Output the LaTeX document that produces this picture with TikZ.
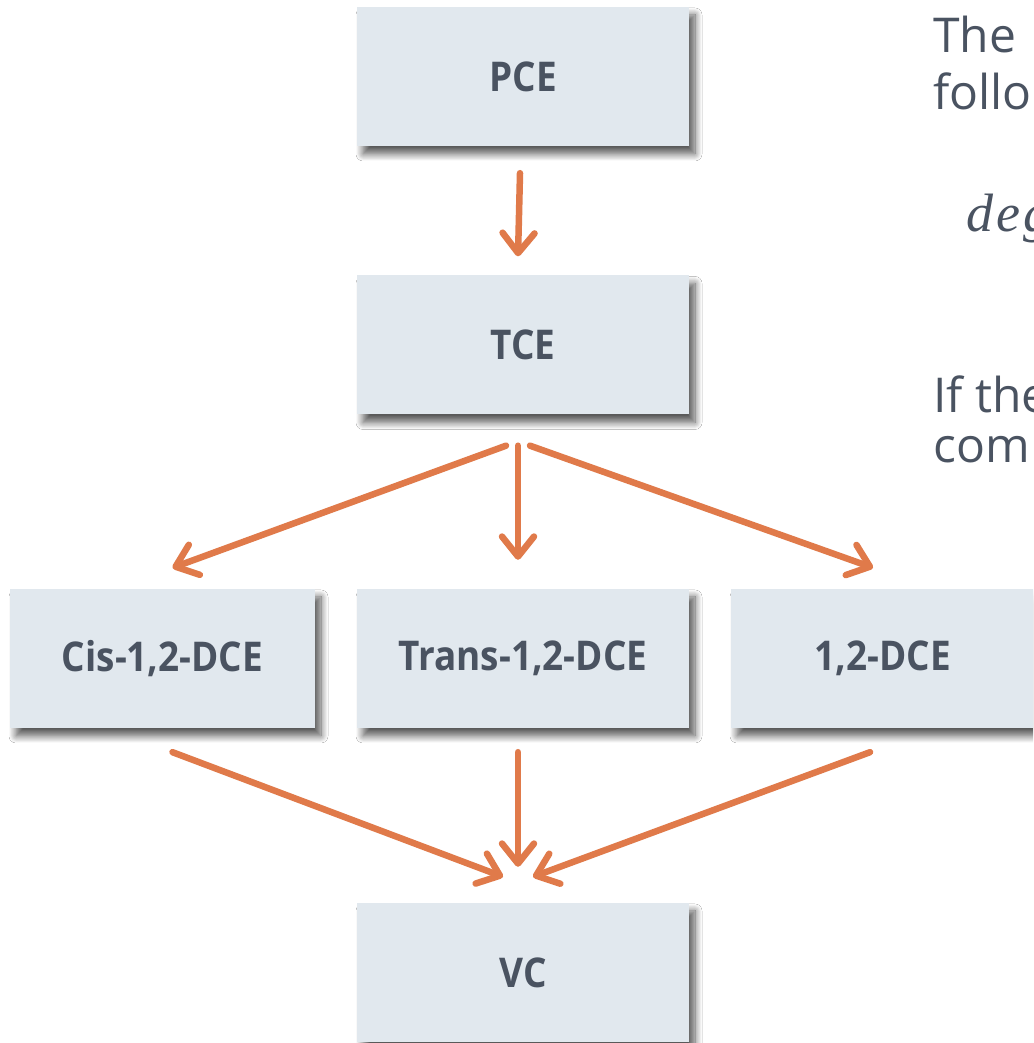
\documentclass[tikz,border=0pt]{standalone}
\usepackage{fontspec}
\usetikzlibrary{arrows.meta,calc,shadows.blur}
\newfontfamily\lblfont{Open Sans}[FakeStretch=0.9]
\newfontfamily\rfont{Open Sans}
\newfontfamily\mathitfont{Liberation Serif}[LetterSpace=6]
\definecolor{boxfill}{HTML}{E1E8EE}
\definecolor{txtgray}{HTML}{4A5361}
\definecolor{arrowor}{HTML}{E07A4A}
\tikzset{
  stepbox/.style={draw=none, fill=boxfill, minimum height=139pt, inner sep=0pt,
    blur shadow={shadow xshift=6pt, shadow yshift=-8pt, shadow blur steps=10, shadow blur radius=7pt, shadow opacity=65},
    font=\lblfont\bfseries\fontsize{41}{48}\selectfont, text=txtgray},
  flow/.style={draw=arrowor, line width=6.5pt, line cap=round, line join=round,
    -{Straight Barb[length=20pt,width=32pt,line cap=round,line join=round]}},
  sidetext/.style={anchor=base west, inner sep=0pt, text=txtgray, font=\rfont\fontsize{48}{56}\selectfont}
}
\begin{document}
\begin{tikzpicture}[x=1pt,y=1pt]
\useasboundingbox (0,0) rectangle (1033,1043);
\clip (0,0) rectangle (1033,1043);
\fill[white] (0,0) rectangle (1033,1043);
% boxes
\node[stepbox, minimum width=332pt] (pce) at (523,966.5) {PCE};
\node[stepbox, minimum width=332pt] (tce) at (523,698) {TCE};
\node[stepbox, minimum width=305pt] (cis) at (162.5,384.5) {Cis-1,2-DCE};
\node[stepbox, minimum width=332pt] (trans) at (523,384.5) {Trans-1,2-DCE};
\node[stepbox, minimum width=304pt] (dce) at (883,384.5) {1,2-DCE};
\node[stepbox, minimum width=332pt] (vc) at (523,70.5) {VC};
% fan points
\coordinate (pceout) at ($(pce.south)+(-3,-27)$);
\coordinate (tceout) at ($(tce.south)+(-5,-31)$);
\coordinate (cisin) at ($(cis.north)+(10,21)$);
\coordinate (transin) at ($(trans.north)+(-5,29)$);
\coordinate (dcein) at ($(dce.north)+(-10,21)$);
\coordinate (vcin) at ($(vc.north)+(-5,36)$);
\draw[flow] (pceout) -- ($(tce.north)+(-5,19)$);
\draw[flow] ($(tceout)+(-12,0)$) -- (cisin);
\draw[flow] (tceout) -- (transin);
\draw[flow] ($(tceout)+(12,0)$) -- (dcein);
\draw[flow] ($(cis.south)+(10,-24)$) -- ($(vcin)+(-15,-10)$);
\draw[flow] ($(trans.south)+(-5,-24)$) -- ($(vcin)+(0,0)$);
\draw[flow] ($(dce.south)+(-13,-24)$) -- ($(vcin)+(15,-10)$);
% side text
\node[sidetext] (t1) at (933,990) {The};
\node[sidetext] (t2) at (933,933) {follo};
\node[anchor=base west, inner sep=0pt, text=txtgray, font=\mathitfont\itshape\fontsize{54}{60}\selectfont] (t3) at (966,811) {deg};
\node[sidetext] (t4) at (933,630) {If the};
\node[sidetext] (t5) at (933,580) {com};
\end{tikzpicture}
\end{document}
